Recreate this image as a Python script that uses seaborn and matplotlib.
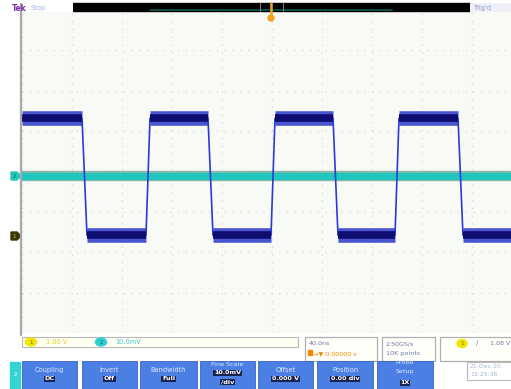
import matplotlib
matplotlib.use("Agg")
import numpy as np
import pandas as pd
import matplotlib.pyplot as plt
import seaborn as sns
from matplotlib.patches import Rectangle, Ellipse, Polygon

# ---------------- data ----------------
ch1_time = [-5.00, -3.80, -3.70, -2.52, -2.44, -1.28, -1.18, -0.02, 0.06,
            1.22, 1.32, 2.46, 2.54, 3.72, 3.82, 4.80]
ch1_volt = [1.32, 1.32, -1.58, -1.58, 1.32, 1.32, -1.58, -1.58, 1.32,
            1.32, -1.58, -1.58, 1.32, 1.32, -1.58, -1.58]
ch2_time = [-5.00, 4.80]
ch2_volt = [-0.10, -0.10]

button_titles = ["Coupling", "Invert", "Bandwidth", "Fine Scale", "Offset", "Position", "Probe\nSetup"]
button_values = ["DC", "Off", "Full", "10.0mV\n/div", "0.000 V", "0.00 div", "1X"]

W, H = 511, 389
sns.set_theme(style="white")
plt.rcParams['font.family'] = ['DejaVu Sans']

fig = plt.figure(figsize=(W / 100, H / 100), dpi=100)
fig.patch.set_facecolor("white")

def fx(px):
    return px / W

def fy(py):
    return 1 - py / H

# main graticule axes: x -5..4.78 div (px 22..511), y -4..4 div (px 333..10)
ax = fig.add_axes([fx(22), fy(333), (511 - 22) / W, (333 - 10) / H])
ax.set_facecolor("#f8faf6")
ax.set_xlim(-5, (511 - 272) / 50)
ax.set_ylim(-4, 4)
ax.set_xticks(np.arange(-5, 5, 1))
ax.set_yticks(np.arange(-4, 5, 1))
ax.grid(True, color="#cfcfcf", linestyle=(0, (1, 6)), linewidth=0.8)
ax.tick_params(length=0, labelbottom=False, labelleft=False)
for s in ax.spines.values():
    s.set_visible(False)

df1 = pd.DataFrame({"t": ch1_time, "v": ch1_volt})
df2 = pd.DataFrame({"t": ch2_time, "v": ch2_volt})

# flat segments (thick noisy bands)
rows = []
seg = 0
for i in range(len(ch1_time) - 1):
    if ch1_volt[i] == ch1_volt[i + 1]:
        rows.append((seg, ch1_time[i], ch1_volt[i]))
        rows.append((seg, ch1_time[i + 1], ch1_volt[i + 1]))
        seg += 1
flat = pd.DataFrame(rows, columns=["seg", "t", "v"])

# channel 2 (teal)
sns.lineplot(data=df2, x="t", y="v", ax=ax, color="#3a8f78", lw=7.5, alpha=0.6,
             estimator=None, sort=False)
sns.lineplot(data=df2, x="t", y="v", ax=ax, color="#1fc6be", lw=5,
             estimator=None, sort=False)

# channel 1 (blue)
sns.lineplot(data=df1, x="t", y="v", ax=ax, color="#2a3ad8", lw=1.2,
             estimator=None, sort=False)
sns.lineplot(data=flat, x="t", y="v", units="seg", ax=ax, color="#2a38c8", lw=10.5, alpha=0.85,
             estimator=None, sort=False, solid_capstyle="butt")
sns.lineplot(data=flat, x="t", y="v", units="seg", ax=ax, color="#0e0e72", lw=5.5,
             estimator=None, sort=False, solid_capstyle="butt")
ax.set_xlabel("")
ax.set_ylabel("")
if ax.get_legend():
    ax.get_legend().remove()

# ---------------- overlay UI (pixel coordinates) ----------------
ov = fig.add_axes([0, 0, 1, 1])
ov.set_xlim(0, W)
ov.set_ylim(H, 0)
ov.axis("off")
ov.patch.set_alpha(0)

# left frame line
ov.plot([21, 21], [4, 335], color="#a8a8a8", lw=1.6)

# top bar
ov.add_patch(Rectangle((73, 3), 397, 8, color="black"))
ov.plot([150, 392], [9.5, 9.5], color="#0d5c52", lw=1.2)
ov.plot([260, 260], [3, 11], color="#777777", lw=0.8)
ov.plot([283, 283], [3, 11], color="#777777", lw=0.8)
ov.add_patch(Rectangle((28, 3), 45, 9, facecolor="white", edgecolor="none"))
ov.text(12, 8, "Tek", color="#7a2fa8", fontsize=5.5, fontweight="bold", va="center")
ov.text(31, 8, "Stop", color="#9cb2e2", fontsize=4.8, va="center")
ov.add_patch(Rectangle((470, 3), 41, 9, facecolor="#eef0f6", edgecolor="none"))
ov.text(474, 8, "Trig'd", color="#8a9ad0", fontsize=4.8, va="center")

# trigger marker
ov.plot([271, 271], [3, 16], color="#f5a223", lw=1.8)
ov.add_patch(Ellipse((271, 18), 6, 6, color="#f5a223"))

# channel markers
ov.add_patch(Polygon([[11, 172], [17, 172], [21, 176], [17, 180], [11, 180]],
                     closed=True, color="#22c8c0"))
ov.text(14, 176, "2", color="#0a5f5a", fontsize=4, va="center", ha="center")
ov.add_patch(Polygon([[11, 232], [17, 232], [21, 236], [17, 240], [11, 240]],
                     closed=True, color="#3a3800"))
ov.text(14.5, 236, "1", color="#c8c060", fontsize=4, va="center", ha="center")

# legend strip
ov.add_patch(Rectangle((22, 337), 276, 10, facecolor="#fffff2", edgecolor="#b8b8b8", lw=0.8))
ov.add_patch(Ellipse((31, 342), 11, 8, color="#f2e600"))
ov.text(31, 342, "1", color="#6b6400", fontsize=4, ha="center", va="center")
ov.text(46, 342, "1.00 V", color="#e8cc20", fontsize=4.8, va="center")
ov.add_patch(Ellipse((101, 342), 11, 8, color="#2ccfd0"))
ov.text(101, 342, "2", color="#0b6664", fontsize=4, ha="center", va="center")
ov.text(115, 342, "10.0mV", color="#3cc8cc", fontsize=4.8, va="center")

# info boxes
ov.add_patch(Rectangle((305, 337), 72, 24, facecolor="#fffffa", edgecolor="#b0b0b0", lw=0.9))
ov.text(309, 343.5, "40.0ns", color="#6a78a8", fontsize=4.6, va="center")
ov.add_patch(Rectangle((308, 349.5), 4, 5, color="#f08a00"))
ov.text(313, 353.5, "\u2192\u25bc 0.00000 s", color="#f08a00", fontsize=4.6, va="center")
ov.add_patch(Rectangle((382, 337), 53, 24, facecolor="#fffffa", edgecolor="#b0b0b0", lw=0.9))
ov.text(386, 343.5, "2.50GS/s", color="#6a78a8", fontsize=4.6, va="center")
ov.text(386, 353.5, "10K points", color="#6a78a8", fontsize=4.6, va="center")
ov.add_patch(Rectangle((440, 337), 80, 24, facecolor="#fffffa", edgecolor="#b0b0b0", lw=0.9))
ov.add_patch(Ellipse((462, 343.5), 10, 8, color="#f2e600"))
ov.text(462, 343.5, "1", color="#6b6400", fontsize=4, ha="center", va="center")
ov.text(476, 343.5, "/", color="#6a78a8", fontsize=5, va="center")
ov.text(490, 343.5, "1.08 V", color="#6a78a8", fontsize=4.6, va="center")

# bottom teal tab
ov.add_patch(Rectangle((10, 362), 10, 27, color="#34d4d2"))
ov.text(15, 375, "2", color="white", fontsize=4, ha="center", va="center")

# buttons
bx = [(22, 77), (82, 137), (140, 197), (200, 255), (258, 313), (317, 373), (377, 433)]
for (x0, x1), t, v in zip(bx, button_titles, button_values):
    ov.add_patch(Rectangle((x0, 361), x1 - x0, 30, facecolor="#4c7fe4", edgecolor="#3a64c0", lw=0.6))
    cx = (x0 + x1) / 2
    if "\n" in t:
        ov.text(cx, 363, "Probe", color="#dce8ff", fontsize=4.6, ha="center", va="center")
        ov.text(cx, 372, "Setup", color="#dce8ff", fontsize=4.6, ha="center", va="center")
        ov.text(cx, 383, v, color="white", fontsize=4.6, ha="center", va="center", fontweight="bold",
                bbox=dict(boxstyle="square,pad=0.12", fc="#1a2450", ec="none"))
    elif "\n" in v:
        ov.text(cx, 364, t, color="#dce8ff", fontsize=4.6, ha="center", va="center")
        a, b = v.split("\n")
        ov.text(cx, 373, a, color="white", fontsize=4.6, ha="center", va="center", fontweight="bold",
                bbox=dict(boxstyle="square,pad=0.12", fc="#1a2450", ec="none"))
        ov.text(cx, 382, b, color="white", fontsize=4.6, ha="center", va="center", fontweight="bold",
                bbox=dict(boxstyle="square,pad=0.12", fc="#1a2450", ec="none"))
    else:
        ov.text(cx, 370, t, color="#dce8ff", fontsize=4.8, ha="center", va="center")
        ov.text(cx, 379, v, color="white", fontsize=4.6, ha="center", va="center", fontweight="bold",
                bbox=dict(boxstyle="square,pad=0.12", fc="#1a2450", ec="none"))

# date box
ov.add_patch(Rectangle((467, 362), 50, 18, facecolor="white", edgecolor="#b8b8b8", lw=0.8))
ov.text(470, 367, "21-Dec-20", color="#a4b4d4", fontsize=4.4, va="center")
ov.text(470, 375, "13:25:36", color="#a4b4d4", fontsize=4.4, va="center")

fig.savefig("out.png", dpi=100)
